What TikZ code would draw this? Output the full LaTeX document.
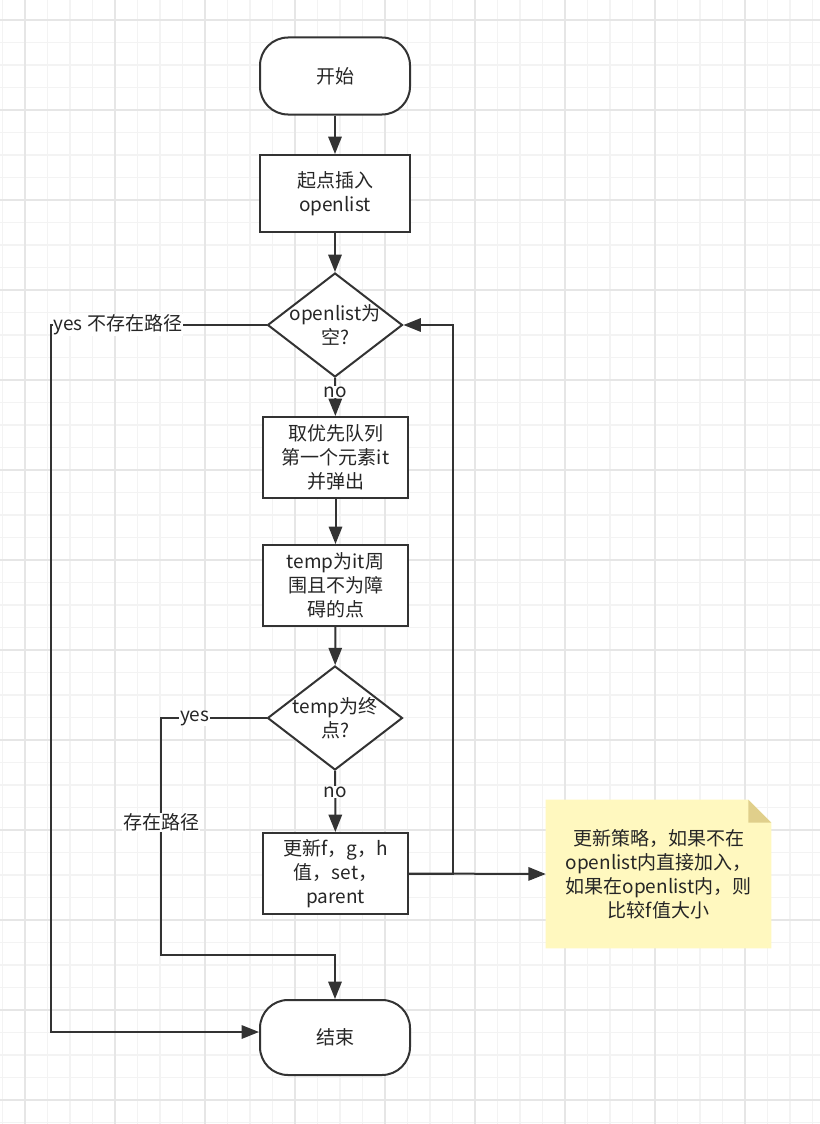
\documentclass[tikz,border=0pt]{standalone}
\usepackage{fontspec}
\setmainfont{Noto Sans CJK SC}
\usetikzlibrary{shapes.geometric,arrows.meta,calc,backgrounds}
\definecolor{linecol}{HTML}{333333}
\definecolor{txtcol}{HTML}{262626}
\definecolor{gridminor}{HTML}{F3F3F3}
\definecolor{gridmajor}{HTML}{E6E6E6}
\definecolor{notefill}{HTML}{FFF8BF}
\definecolor{foldfill}{HTML}{E0CF8B}
\tikzset{
	every node/.style={text=txtcol, font=\fontsize{14.25pt}{18pt}\selectfont, align=center},
	terminal/.style={draw=linecol, line width=1.5pt, rounded corners=21pt, fill=white, minimum width=112.5pt, minimum height=57.75pt},
	process/.style={draw=linecol, line width=1.5pt, fill=white, minimum width=108.75pt, minimum height=60.75pt, inner sep=1pt},
	decision/.style={draw=linecol, line width=1.5pt, diamond, fill=white, minimum width=101.25pt, minimum height=78pt, inner sep=0pt},
	arr/.style={draw=linecol, line width=1.5pt, -{Triangle[length=13pt,width=10pt]}},
	lbl/.style={fill=white, inner sep=0.5pt}
}
\begin{document}
\begin{tikzpicture}[x=0.75pt, y=-0.75pt, line join=miter]
	\useasboundingbox (0,0) rectangle (820,1124);
	% 背景网格
	\begin{scope}[on background layer]
		\fill[white] (0,0) rectangle (820,1124);
		\foreach \x in {2.5,25,...,820} \draw[gridminor, line width=0.8pt] (\x,0) -- (\x,1124);
		\foreach \y in {20,42.5,...,1124} \draw[gridminor, line width=0.8pt] (0,\y) -- (820,\y);
		\foreach \x in {25,115,...,820} \draw[gridmajor, line width=0.8pt] (\x,0) -- (\x,1124);
		\foreach \y in {20,110,...,1124} \draw[gridmajor, line width=0.8pt] (0,\y) -- (820,\y);
	\end{scope}
	
	% 流程节点
	\node[terminal] (start) at (335,76) {开始};
	\node[process, minimum width=112.5pt, minimum height=57.75pt] (insert) at (335,193.5) {起点插入\\openlist};
	\node[decision, label={[align=center]center:{openlist为\\空?}}] (isempty) at (335,325) {};
	\node[process] (popit) at (335.5,457.5) {取优先队列\\第一个元素it\\并弹出};
	\node[process] (neigh) at (335.5,585.5) {temp为it周\\围且不为障\\碍的点};
	\node[decision, label={[align=center]center:{temp为终\\点?}}] (isgoal) at (335,718) {};
	\node[process] (update) at (335.5,873.5) {更新f，g，h\\值，set，\\parent};
	\node[terminal, minimum height=56.25pt] (finish) at (335,1037.5) {结束};
	
	% 注释框
	\node[minimum width=168.75pt, minimum height=111pt, inner sep=0pt] (note) at (658.5,874) {更新策略，如果不在\\openlist内直接加入，\\如果在openlist内，则\\比较f值大小};
	\begin{scope}[on background layer]
		\fill[notefill] (note.north west) -- ($(note.north east)+(-23,0)$) -- ($(note.north east)+(0,23)$) -- (note.south east) -- (note.south west) -- cycle;
		\fill[foldfill] ($(note.north east)+(-23,0)$) -- ($(note.north east)+(-23,23)$) -- ($(note.north east)+(0,23)$) -- cycle;
	\end{scope}
	
	% 主干连线
	\draw[arr] (start) -- (insert);
	\draw[arr] (insert) -- (isempty);
	\draw[arr] (isempty) -- node[lbl, pos=0.38] {no} (popit);
	\draw[arr] (popit) -- (neigh);
	\draw[arr] (neigh) -- (isgoal);
	\draw[arr] (isgoal) -- node[lbl, pos=0.35] {no} (update);
	
	% 分支连线
	\coordinate (nopath) at (51,1032);
	\coordinate (haspath) at (161,955);
	\draw[arr] (isempty.west) -| node[lbl, pos=0.345] {yes 不存在路径} (nopath) -- (finish.west |- nopath);
	\draw[arr] (isgoal.west) -| node[lbl, pos=0.34] {yes} node[lbl, pos=0.72] {存在路径} (haspath) -| (finish.north);
	\draw[arr] (update.east) -- ++(44,0) |- (isempty.east);
	\draw[arr] (update.east) -- (note.west);
\end{tikzpicture}
\end{document}
